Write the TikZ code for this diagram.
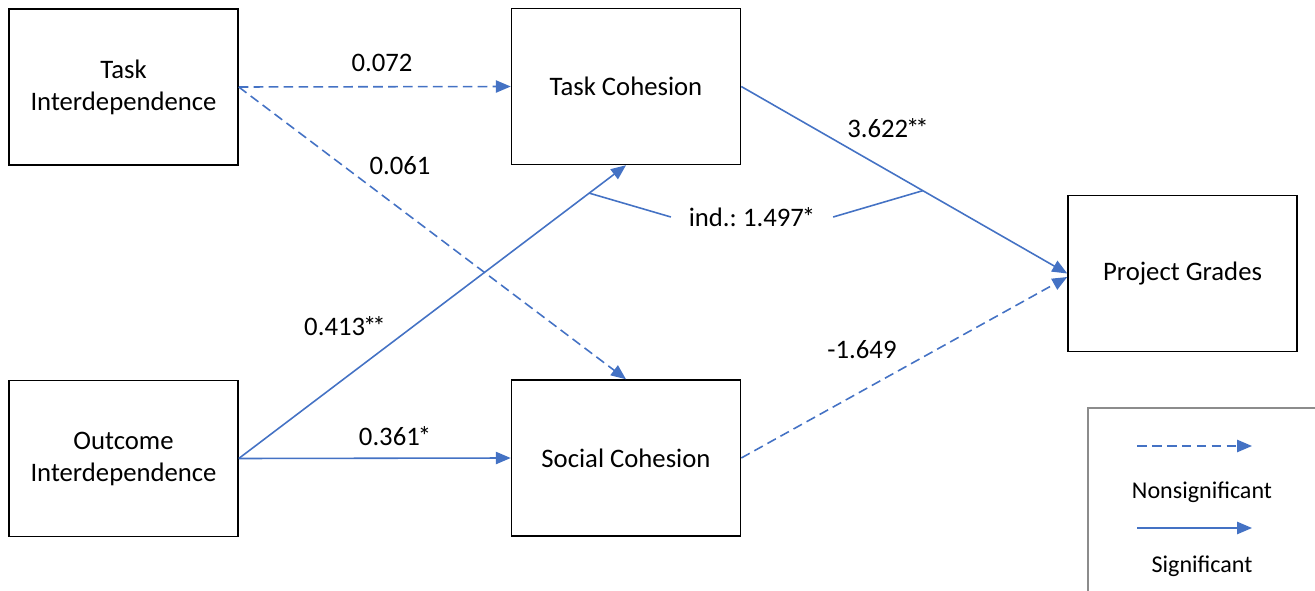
\documentclass[tikz,border=0pt]{standalone}
\usepackage{fontspec}
\setmainfont{Carlito}
\usepackage{tikz}
\usepackage{xcolor}
\usetikzlibrary{arrows.meta}
\definecolor{pathblue}{HTML}{4472C4}
\newcommand{\onestar}{\kern-1.2pt*}
\newcommand{\twostar}{\kern-1.2pt*\kern-2.2pt*}
\tikzset{
    var-box/.style = {draw=black, line width=0.9pt, rectangle, minimum width=4.58cm, minimum height=3.12cm, align=center, font=\fontsize{15.2}{18.2}\selectfont},
    sig-path/.style = {draw=pathblue, line width=0.9pt, -{Triangle[length=8.5pt,width=7pt]}},
    ns-path/.style = {sig-path, dash pattern=on 5.5pt off 3pt},
    path-label/.style = {font=\fontsize{15.2}{18.2}\selectfont, inner sep=2pt},
    legend-label/.style = {font=\fontsize{13.7}{16}\selectfont, inner sep=1pt},
}

\begin{document}
\begin{tikzpicture}[x=0.02cm, y=-0.02cm]
\useasboundingbox (0,0) rectangle (1315,591);
% variables
\node [var-box] (task-inter) at (123.5,87) {Task\\Interdependence};
\node [var-box] (outcome-inter) at (123.5,458.5) {Outcome\\Interdependence};
\node [var-box] (task-coh) at (626,86.5) {Task Cohesion};
\node [var-box] (social-coh) at (626,458) {Social Cohesion};
\node [var-box] (grades) at (1182.5,273.5) {Project Grades};

% paths
\draw [ns-path] (task-inter.east) -- (task-coh.west);
\draw [ns-path] (task-inter.east) -- (social-coh.north);
\draw [sig-path] (outcome-inter.east) -- coordinate[pos=0.905] (ind-a) (task-coh.south);
\draw [sig-path] (outcome-inter.east) -- (social-coh.west);
\draw [sig-path] (task-coh.east) -- coordinate[pos=0.557] (ind-b) (grades.west);
\draw [ns-path] (social-coh.east) -- ([yshift=-2pt]grades.west);

% coefficients
\node [path-label] (b-ti-tc) at (382,63) {0.072};
\node [path-label] (b-ti-sc) at (400,166) {0.061};
\node [path-label] (b-oi-tc) at (345,326) {0.413\twostar};
\node [path-label] (b-oi-sc) at (395,436) {0.361\onestar};
\node [path-label] (b-tc-pg) at (888,128) {3.622\twostar};
\node [path-label] (b-sc-pg) at (862,350) {-1.649};
\node [path-label, inner xsep=10pt] (ind) at (752,217) {ind.:\kern-1pt{} 1.497\onestar};
\draw [draw=pathblue, line width=0.9pt] (ind-a) -- (ind.west);
\draw [draw=pathblue, line width=0.9pt] (ind.east) -- (ind-b);

% legend
\draw [draw=black!45, line width=0.8pt] (1315,408) -- (1088,408) -- (1088,591);
\coordinate (ns-start) at (1137,446);
\coordinate (ns-end) at (1252,446);
\coordinate (sig-start) at (1137,528);
\coordinate (sig-end) at (1252,528);
\draw [ns-path] (ns-start) -- (ns-end);
\draw [sig-path] (sig-start) -- (sig-end);
\node [legend-label] (ns-text) at (1202,492) {Nonsignificant};
\node [legend-label] (sig-text) at (1202,566) {Significant};
\end{tikzpicture}
\end{document}
